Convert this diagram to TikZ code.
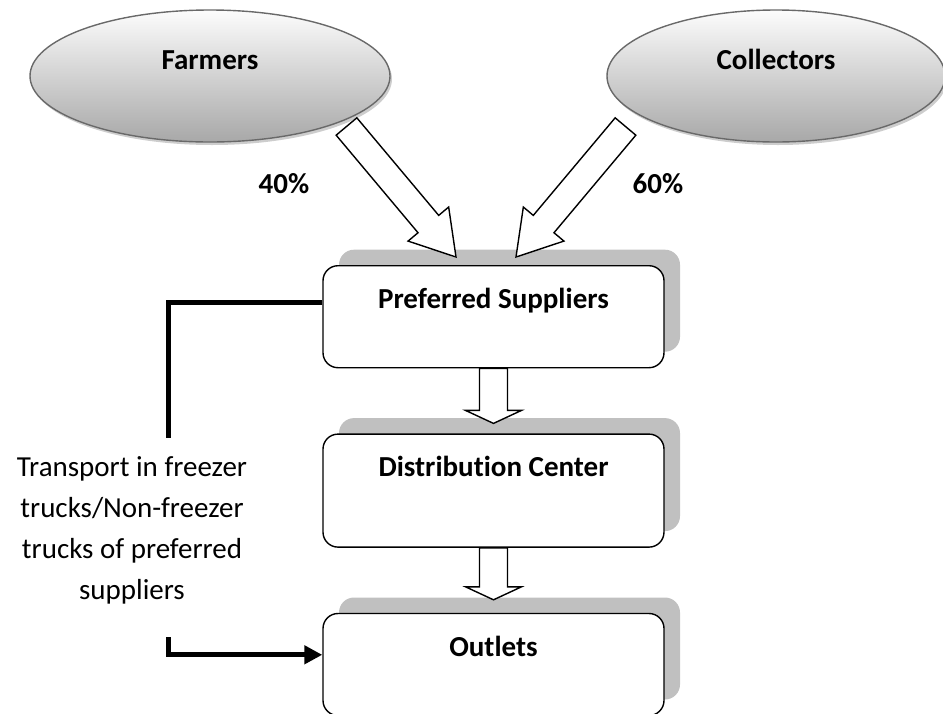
\documentclass[tikz,border=0pt]{standalone}
\usepackage{fontspec}
\setmainfont{Carlito}[Ligatures=NoCommon]
\usetikzlibrary{arrows.meta,calc,positioning,shapes.geometric,shadows}
\definecolor{boxshade}{RGB}{192,192,192}
\definecolor{elltop}{RGB}{252,252,252}
\definecolor{ellbottom}{RGB}{168,168,168}
\definecolor{ellrim}{RGB}{105,105,105}
\definecolor{ellshade}{RGB}{205,205,205}

\tikzset{
  stagebox/.style={draw, line width=1.4pt, rounded corners=15pt, fill=white,
    minimum width=341pt, inner sep=0pt, text height=43pt, text depth=59pt,
    font=\fontsize{29}{34}\selectfont\bfseries,
    drop shadow={shadow xshift=16pt, shadow yshift=16pt, fill=boxshade, opacity=1}},
  sourceell/.style={ellipse, draw=ellrim, line width=1.4pt,
    top color=elltop, bottom color=ellbottom,
    minimum height=132pt, inner sep=0pt, text height=10pt, text depth=23pt,
    font=\fontsize{29}{34}\selectfont\bfseries,
    drop shadow={shadow xshift=2pt, shadow yshift=-3pt, fill=ellshade, opacity=1}},
  blockarr/.style={draw, line width=1.4pt, fill=white, line join=miter},
  conn/.style={line width=5pt},
  pctlabel/.style={font=\fontsize{29}{34}\selectfont\bfseries},
}

% block arrow: start, tip, half shaft, half head, head length
\newcommand{\blockarrow}[5]{%
  \coordinate (ba-c) at ($(#2)!#5!(#1)$);
  \draw[blockarr] ($(#1)!#3!90:(#2)$) -- ($(ba-c)!#3!90:(#2)$)
    -- ($(ba-c)!#4!90:(#2)$) -- (#2) -- ($(ba-c)!#4!-90:(#2)$)
    -- ($(ba-c)!#3!-90:(#2)$) -- ($(#1)!#3!-90:(#2)$) -- cycle;
}

\begin{document}
\begin{tikzpicture}[x=1pt,y=-1pt]
  \useasboundingbox (0,0) rectangle (943,713);
  % Sources
  \node[sourceell, minimum width=360pt] (farmers) at (210,76) {Farmers};
  \node[sourceell, minimum width=338pt] (collectors) at (776,76) {Collectors};
  % Stages
  \node[stagebox, anchor=north] (pref) at (493.5,265) {Preferred Suppliers};
  \node[stagebox, text height=42pt, text depth=71pt, below=65pt of pref]
    (dist) {Distribution Center};
  \node[stagebox, below=65pt of dist] (outlets) {Outlets};
  % Flows into preferred suppliers
  \coordinate (farmout) at ($(farmers.center)+(136.5,50.5)$);
  \coordinate (collout) at ($(collectors.center)+(-150.5,50.5)$);
  \coordinate (farmtip) at ($(pref.north)+(-37.5,-8)$);
  \coordinate (colltip) at ($(pref.north)+(22.5,-8)$);
  \blockarrow{farmout}{farmtip}{13.5pt}{26.5pt}{43pt}
  \blockarrow{collout}{colltip}{13.5pt}{26.5pt}{43pt}
  \node[pctlabel] (farmpct) at (284,184) {40\%};
  \node[pctlabel] (collpct) at (658,184) {60\%};
  % Flows down the chain
  \coordinate (disttip) at ($(dist.north)+(0,-10)$);
  \coordinate (outtip) at ($(outlets.north)+(0,-13)$);
  \blockarrow{pref.south}{disttip}{14pt}{28pt}{13pt}
  \blockarrow{dist.south}{outtip}{14pt}{28pt}{13pt}
  % Transport
  \node[font=\fontsize{29}{41}\selectfont, align=center] (transport) at (132,530)
    {Transport in freezer\\trucks/Non-freezer\\trucks of preferred\\suppliers};
  \coordinate (prefout) at ($(pref.north west)+(0,37)$);
  \coordinate (upend) at (168,438);
  \draw[conn] (prefout) -| (upend);
  \coordinate (lowstart) at (168,637);
  \coordinate (inlet) at ($(outlets.north west)+(0,42)$);
  \draw[conn,-{Triangle[length=18pt,width=18pt]}] (lowstart) |- (inlet);
\end{tikzpicture}
\end{document}
